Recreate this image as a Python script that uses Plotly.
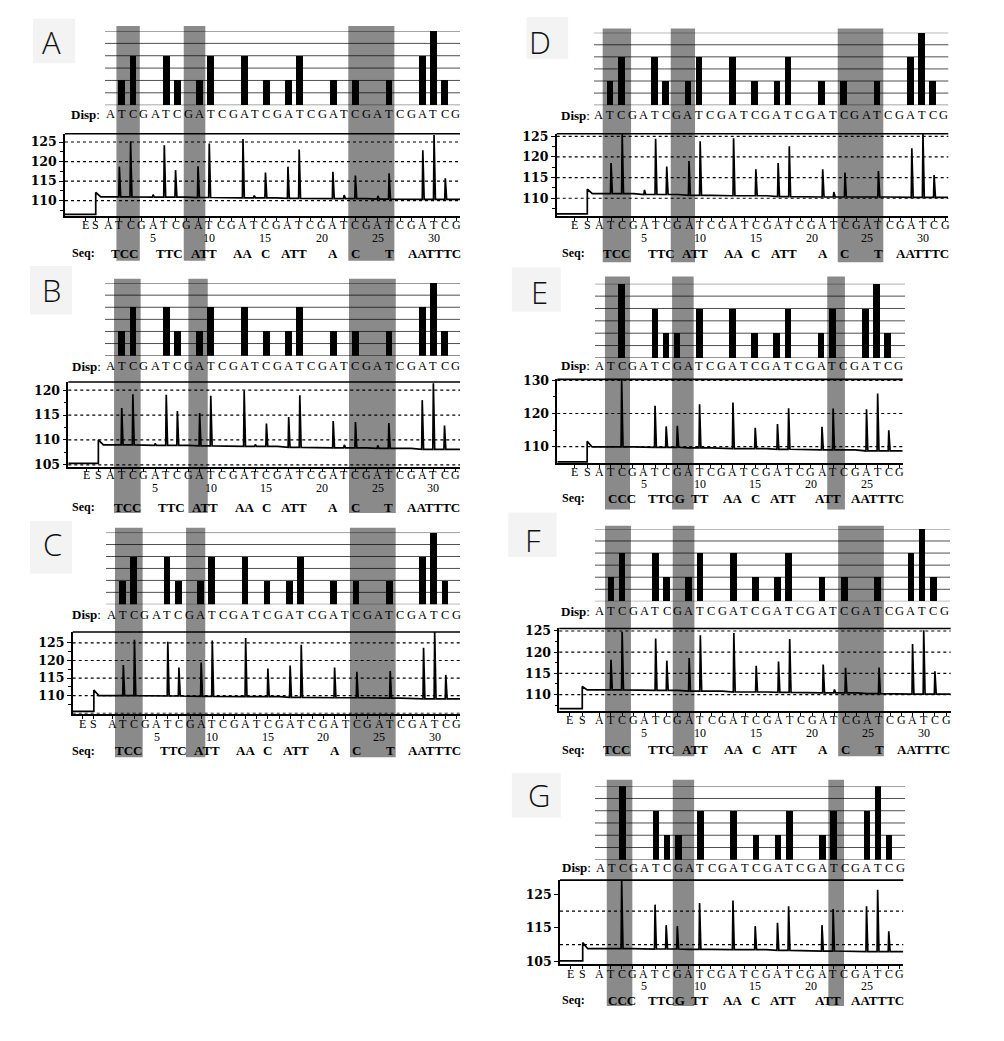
import plotly.graph_objects as go

W, H = 1004, 1041

# ---------------- data ----------------
disp_long = list("ATCGATCGATCGATCGATCGATCGATCGATCG")   # panels A-D, F
disp_short = list("ATCGATCGATCGATCGATCGATCGATCG")      # panels E, G

counts_long = [0, 1, 2, 0, 0, 2, 1, 0, 1, 2, 0, 0, 2, 0, 1, 0,
               1, 2, 0, 0, 1, 0, 1, 0, 0, 1, 0, 0, 2, 3, 1, 0]
counts_short = [0, 0, 3, 0, 0, 2, 1, 1, 0, 2, 0, 0, 2, 0, 1, 0,
                1, 2, 0, 0, 1, 2, 0, 0, 2, 3, 1, 0]

peaks_A = [None, 118.7, 125.2, None, 111.5, 124.2, 117.8, None, 118.8, 124.6, None, None,
           125.8, 111.3, 117.2, None, 118.7, 123.1, None, None, 117.4, 111.4, 116.4, None,
           111.2, 117.0, None, None, 122.9, 126.8, 115.7, None]
peaks_B = [None, 116.4, 119.2, None, 109.3, 119.1, 115.8, None, 115.4, 118.9, None, None,
           119.9, 109.1, 113.3, None, 114.6, 119.0, None, None, 113.8, 109.0, 113.6, None,
           108.9, 113.4, None, None, 118.0, 121.4, 112.9, None]
peaks_C = [None, 118.7, 125.9, None, None, 125.3, 118.0, None, 119.4, 125.7, None, None,
           126.4, None, 117.7, None, 118.6, 124.5, None, None, 118.0, None, 116.8, None,
           None, 117.0, None, None, 123.6, 128.1, 115.9, None]
peaks_D = [None, 118.5, 125.6, None, 112.0, 124.4, 117.7, None, 119.0, 123.8, None, None,
           124.5, None, 117.0, None, 118.5, 122.6, None, None, 117.0, 111.5, 116.2, None,
           None, 116.6, None, None, 122.1, 125.6, 115.6, None]
peaks_E = [None, None, 130.2, None, None, 122.3, 116.1, 116.3, None, 122.8, None, None,
           123.3, None, 115.7, None, 116.8, 121.6, None, None, 116.0, 121.5, None, None,
           121.3, 126.0, 114.9, None]
peaks_F = [None, 118.2, 124.8, None, None, 123.2, 118.0, None, 118.6, 124.0, None, None,
           124.5, None, 116.8, None, 117.8, 123.1, None, None, 117.1, 111.2, 116.3, None,
           None, 116.4, None, None, 121.9, 125.2, 115.5, None]
peaks_G = [None, None, 129.2, None, None, 121.9, 115.8, 115.5, None, 122.4, None, None,
           123.1, None, 115.5, None, 116.5, 121.4, None, None, 115.8, 120.6, None, None,
           121.4, 126.3, 114.0, None]

# baseline per dispensation cycle (ATCG)
base_A = [110.95, 110.9, 110.8, 110.7, 110.6, 110.5, 110.4, 110.3]
base_B = [109.0, 108.9, 108.8, 108.7, 108.5, 108.4, 108.3, 108.1]
base_C = [110.0, 109.9, 109.8, 109.7, 109.5, 109.4, 109.3, 109.1]
base_D = [111.1, 110.9, 110.7, 110.6, 110.4, 110.3, 110.3, 110.2]
base_E = [109.9, 109.8, 109.6, 109.4, 109.2, 109.0, 108.7]
base_F = [111.1, 111.0, 110.8, 110.6, 110.5, 110.4, 110.2, 110.1]
base_G = [108.8, 108.7, 108.6, 108.5, 108.3, 108.1, 107.9]

# [level before substrate, level of S jump]
start_A = [106.5, 112.1]
start_B = [105.3, 110.0]
start_C = [105.5, 111.6]
start_D = [106.2, 112.2]
start_E = [105.4, 111.6]
start_F = [106.7, 111.9]
start_G = [105.2, 110.6]

# positions of E and S ticks
es_A = [-1.05, -0.1]
es_B = [-1.2, -0.1]
es_C = [-1.7, -0.65]
es_D = [-1.25, -0.13]
es_E = [-1.2, -0.1]
es_F = [-1.7, -0.57]
es_G = [-1.6, -0.5]

# shaded regions (in dispensation units)
bands_A = [[1.74, 3.82], [7.73, 9.65], [22.37, 26.47]]
bands_B = [[1.31, 3.70], [7.99, 9.73], [22.42, 26.62]]
bands_C = [[1.25, 3.74], [7.64, 9.37], [22.38, 26.49]]
bands_D = [[1.25, 3.80], [7.36, 9.54], [22.35, 26.44]]
bands_E = [[1.50, 3.75], [7.53, 9.47], [21.47, 23.06]]
bands_F = [[1.47, 3.79], [7.53, 9.47], [22.34, 26.43]]
bands_G = [[1.66, 3.96], [7.59, 9.51], [21.57, 22.98]]

yticks_A = [110, 115, 120, 125]
yticks_B = [105, 110, 115, 120]
yticks_C = [110, 115, 120, 125]
yticks_D = [110, 115, 120, 125]
yticks_E = [110, 120, 130]
yticks_F = [110, 115, 120, 125]
yticks_G = [105, 115, 125]

minor_A = [107.5, 112.5, 117.5, 122.5]
minor_B = [107.5, 112.5, 117.5]
minor_C = [107.5, 112.5, 117.5, 122.5]
minor_D = [107.5, 112.5, 117.5, 122.5]
minor_E = [115, 125]
minor_F = [107.5, 112.5, 117.5, 122.5]
minor_G = []

dotted_A = [110, 115, 120, 125]
dotted_B = [105, 110, 115, 120]
dotted_C = [105, 110, 115, 120, 125]
dotted_D = [110, 115, 120, 125]
dotted_E = [110, 120, 130]
dotted_F = [110, 115, 120, 125]
dotted_G = [110, 120]

hist_levels = [0, 0.5, 1, 1.5, 2, 2.5, 3]
cycle_numbers = [5, 10, 15, 20, 25, 30]

panels = {
    "A": dict(disp=disp_long, counts=counts_long, peaks=peaks_A, base=base_A, start=start_A,
              es=es_A, bands=bands_A, yt=yticks_A, ym=minor_A, dots=dotted_A),
    "B": dict(disp=disp_long, counts=counts_long, peaks=peaks_B, base=base_B, start=start_B,
              es=es_B, bands=bands_B, yt=yticks_B, ym=minor_B, dots=dotted_B),
    "C": dict(disp=disp_long, counts=counts_long, peaks=peaks_C, base=base_C, start=start_C,
              es=es_C, bands=bands_C, yt=yticks_C, ym=minor_C, dots=dotted_C),
    "D": dict(disp=disp_long, counts=counts_long, peaks=peaks_D, base=base_D, start=start_D,
              es=es_D, bands=bands_D, yt=yticks_D, ym=minor_D, dots=dotted_D),
    "E": dict(disp=disp_short, counts=counts_short, peaks=peaks_E, base=base_E, start=start_E,
              es=es_E, bands=bands_E, yt=yticks_E, ym=minor_E, dots=dotted_E),
    "F": dict(disp=disp_long, counts=counts_long, peaks=peaks_F, base=base_F, start=start_F,
              es=es_F, bands=bands_F, yt=yticks_F, ym=minor_F, dots=dotted_F),
    "G": dict(disp=disp_short, counts=counts_short, peaks=peaks_G, base=base_G, start=start_G,
              es=es_G, bands=bands_G, yt=yticks_G, ym=minor_G, dots=dotted_G),
}

# ---------------- layout geometry (pixels) ----------------
geo = {
    "A": dict(box=(33, 12, 75, 57), letter=(51, 35), hist=(105, 24.3, 460, 99.3), hp1=110.6, hst=11.13,
              disp_y=108.3, disp_x=102, pyro=(65, 128.3, 460, 211.7), yr=(106.0, 127.1), pp1=108.1, pst=11.24,
              lab_y=220.7, num_y=233.2, seq_y=249.3, seq_x=97, band_y=(19.3, 256.7)),
    "B": dict(box=(30, 262, 72, 311), letter=(51.7, 286.7), hist=(105, 279.3, 460, 352.7), hp1=110.6, hst=11.13,
              disp_y=363.3, disp_x=102.7, pyro=(68.3, 379.3, 460, 465.7), yr=(104.5, 121.66), pp1=110.6, pst=11.13,
              lab_y=473.3, num_y=486.7, seq_y=506, seq_x=96.7, band_y=(275, 512)),
    "C": dict(box=(30, 520, 72, 573), letter=(52.7, 543.3), hist=(106, 531.7, 460, 604.3), hp1=111.6, hst=11.11,
              disp_y=615, disp_x=103.3, pyro=(72.7, 632.3, 460, 715), yr=(104.85, 128.1), pp1=112.2, pst=11.12,
              lab_y=725.5, num_y=738.2, seq_y=752.3, seq_x=96.7, band_y=(526.7, 759)),
    "D": dict(box=(526.7, 10, 568.3, 52.7), letter=(540, 35), hist=(594, 26, 948.3, 99.3), hp1=598.9, hst=11.13,
              disp_y=109.3, disp_x=591.7, pyro=(556.7, 128.3, 948.3, 211), yr=(105.8, 125.6), pp1=599.9, pst=11.14,
              lab_y=220.7, num_y=233.2, seq_y=249.3, seq_x=586.7, band_y=(21.7, 258.3)),
    "E": dict(box=(511.7, 263.3, 560.7, 308.3), letter=(539.3, 288.3), hist=(595, 280, 905, 355), hp1=599.5, hst=11.08,
              disp_y=362.7, disp_x=591.7, pyro=(557.3, 376.7, 902.7, 461.7), yr=(104.95, 130.3), pp1=599.4, pst=11.13,
              lab_y=470.2, num_y=483.0, seq_y=497, seq_x=587.3, band_y=(272.7, 508.3)),
    "F": dict(box=(508.3, 511.3, 556.7, 556.3), letter=(533.3, 539.7), hist=(595, 528, 950, 601.3), hp1=599.9, hst=11.11,
              disp_y=611.3, disp_x=591.7, pyro=(559.3, 628.7, 950.7, 712.3), yr=(106.1, 125.6), pp1=599.8, pst=11.17,
              lab_y=721.3, num_y=734.7, seq_y=751.3, seq_x=587.3, band_y=(524.7, 758)),
    "G": dict(box=(511.7, 775, 560.7, 820), letter=(539.3, 796.7), hist=(595, 788.3, 905, 862.7), hp1=600.5, hst=11.1,
              disp_y=871, disp_x=593.3, pyro=(560, 883.3, 903.3, 968.3), yr=(104.2, 129.2), pp1=599.4, pst=11.13,
              lab_y=977.8, num_y=990.5, seq_y=1005, seq_x=587.3, band_y=(781.7, 1010.7)),
}

SERIF = "Liberation Serif"
WSERIF = "DejaVu Serif"
SANS = "Open Sans"


def fx(p):
    return p / W


def fy(p):
    return 1 - p / H


def axnames(i):
    s = "" if i == 1 else str(i)
    return "xaxis" + s, "yaxis" + s, "x" + s, "y" + s


def seq_runs(disp, counts):
    runs, cur = [], []
    for k, (ch, c) in enumerate(zip(disp, counts), start=1):
        if c > 0:
            cur.append((k, ch * c))
        elif cur:
            runs.append(cur)
            cur = []
    if cur:
        runs.append(cur)
    return [(sum(k for k, _ in r) / len(r), "".join(s for _, s in r)) for r in runs]


fig = go.Figure()
shapes, annos, lay = [], [], {}
idx = 0

for key in ["A", "B", "C", "D", "E", "F", "G"]:
    P, G = panels[key], geo[key]
    N = len(P["disp"])
    pos = list(range(1, N + 1))

    # label box
    bx0, by0, bx1, by1 = G["box"]
    shapes.append(dict(type="rect", xref="paper", yref="paper", x0=fx(bx0), x1=fx(bx1), y0=fy(by1), y1=fy(by0),
                       fillcolor="#f3f3f3", line=dict(width=0), layer="below"))
    annos.append(dict(xref="paper", yref="paper", x=fx(G["letter"][0]), y=fy(G["letter"][1]), text=key,
                      showarrow=False, xanchor="center", yanchor="middle",
                      font=dict(family=SANS, size=31, color="#111", weight=300)))

    # ---- histogram ----
    idx += 1
    hxa, hya, hx, hy = axnames(idx)
    l, t, r, b = G["hist"]
    xr = [1 + (l - G["hp1"]) / G["hst"], 1 + (r - G["hp1"]) / G["hst"]]
    lay[hxa] = dict(domain=[fx(l), fx(r)], range=xr, visible=False, anchor=hy, fixedrange=True)
    lay[hya] = dict(domain=[fy(b), fy(t)], range=[0, 3], visible=False, anchor=hx, fixedrange=True)
    fig.add_trace(go.Bar(x=pos, y=P["counts"], xaxis=hx, yaxis=hy, marker=dict(color="black", line=dict(width=0)),
                         width=0.6, showlegend=False, hoverinfo="skip"))
    for lv in hist_levels:
        shapes.append(dict(type="line", xref=hx + " domain", yref=hy, x0=0, x1=1, y0=lv, y1=lv,
                           line=dict(color="#505050", width=1), layer="below"))
    for k, ch in zip(pos, P["disp"]):
        annos.append(dict(xref=hx, yref="paper", x=k, y=fy(G["disp_y"]), text=ch, showarrow=False,
                          xanchor="center", yanchor="middle", font=dict(family=SERIF, size=12.5, color="black")))
    annos.append(dict(xref="paper", yref="paper", x=fx(G["disp_x"]), y=fy(G["disp_y"]), text="<b>Disp</b>:",
                      showarrow=False, xanchor="right", yanchor="middle",
                      font=dict(family=SERIF, size=13, color="black")))

    # ---- pyrogram ----
    idx += 1
    pxa, pya, px_, py_ = axnames(idx)
    l, t, r, b = G["pyro"]
    xr = [1 + (l - G["pp1"]) / G["pst"], 1 + (r - G["pp1"]) / G["pst"]]
    tickpos = P["es"] + pos
    lay[pxa] = dict(domain=[fx(l), fx(r)], range=xr, anchor=py_, showline=True, linecolor="black", linewidth=2,
                    ticks="outside", ticklen=3, tickwidth=1, tickcolor="black", tickmode="array",
                    tickvals=tickpos, ticktext=[""] * len(tickpos), showgrid=False, zeroline=False,
                    fixedrange=True)
    lay[pya] = dict(domain=[fy(b), fy(t)], range=list(G["yr"]), anchor=px_, showline=True, linecolor="black",
                    linewidth=1.5, ticks="outside", ticklen=4, tickwidth=1, tickcolor="black", tickmode="array",
                    tickvals=P["yt"], ticktext=["<b>%d</b>" % v for v in P["yt"]],
                    tickfont=dict(family=WSERIF, size=12.5, color="black"),
                    showgrid=False, zeroline=False, fixedrange=True,
                    minor=dict(tickmode="array", tickvals=P["ym"], ticks="outside", ticklen=3, tickcolor="black",
                               showgrid=False))

    pre, spike = P["start"]
    s_pos = P["es"][1]
    base = P["base"]
    xs = [xr[0], s_pos, s_pos, s_pos + 0.45]
    ys = [pre, pre, spike, base[0]]
    for k in pos:
        bb = base[(k - 1) // 4]
        pk = P["peaks"][k - 1]
        if pk is None:
            xs.append(k)
            ys.append(bb)
        else:
            xs += [k - 0.05, k, k + 0.12]
            ys += [bb, pk, bb]
    xs.append(xr[1])
    ys.append(base[-1])
    fig.add_trace(go.Scatter(x=xs, y=ys, xaxis=px_, yaxis=py_, mode="lines",
                             line=dict(color="black", width=1.7), showlegend=False, hoverinfo="skip"))

    for lv in P["dots"]:
        shapes.append(dict(type="line", xref=px_ + " domain", yref=py_, x0=0, x1=1, y0=lv, y1=lv,
                           line=dict(color="black", width=1.2, dash="dot"), layer="below"))
    shapes.append(dict(type="line", xref=px_ + " domain", yref=py_ + " domain", x0=0, x1=1, y0=1, y1=1,
                       line=dict(color="black", width=1.6)))

    # axis letters
    for xv, ch in zip(tickpos, ["E", "S"] + P["disp"]):
        annos.append(dict(xref=px_, yref="paper", x=xv, y=fy(G["lab_y"]), text=ch, showarrow=False,
                          xanchor="center", yanchor="middle", font=dict(family=SERIF, size=12, color="black")))
    for n in cycle_numbers:
        if n <= N:
            annos.append(dict(xref=px_, yref="paper", x=n, y=fy(G["num_y"]), text=str(n), showarrow=False,
                              xanchor="center", yanchor="middle", font=dict(family=SERIF, size=12, color="black")))
    # sequence row
    for xc, txt in seq_runs(P["disp"], P["counts"]):
        annos.append(dict(xref=px_, yref="paper", x=xc, y=fy(G["seq_y"]), text="<b>" + txt + "</b>",
                          showarrow=False, xanchor="center", yanchor="middle",
                          font=dict(family=SERIF, size=13, color="black")))
    annos.append(dict(xref="paper", yref="paper", x=fx(G["seq_x"]), y=fy(G["seq_y"]), text="<b>Seq:</b>",
                      showarrow=False, xanchor="right", yanchor="middle",
                      font=dict(family=SERIF, size=12, color="black")))

    # shaded bands
    by_t, by_b = G["band_y"]
    for x0, x1 in P["bands"]:
        shapes.append(dict(type="rect", xref=px_, yref="paper", x0=x0, x1=x1, y0=fy(by_b), y1=fy(by_t),
                           fillcolor="rgba(0,0,0,0.46)", line=dict(width=0), layer="above"))

fig.update_layout(width=W, height=H, margin=dict(l=0, r=0, t=0, b=0), paper_bgcolor="white",
                  plot_bgcolor="rgba(0,0,0,0)", showlegend=False, shapes=shapes, annotations=annos,
                  bargap=0, **lay)
fig.write_html("out.html", config={"displayModeBar": False},
               post_script="document.body.style.margin='0';document.body.style.overflow='hidden';")
